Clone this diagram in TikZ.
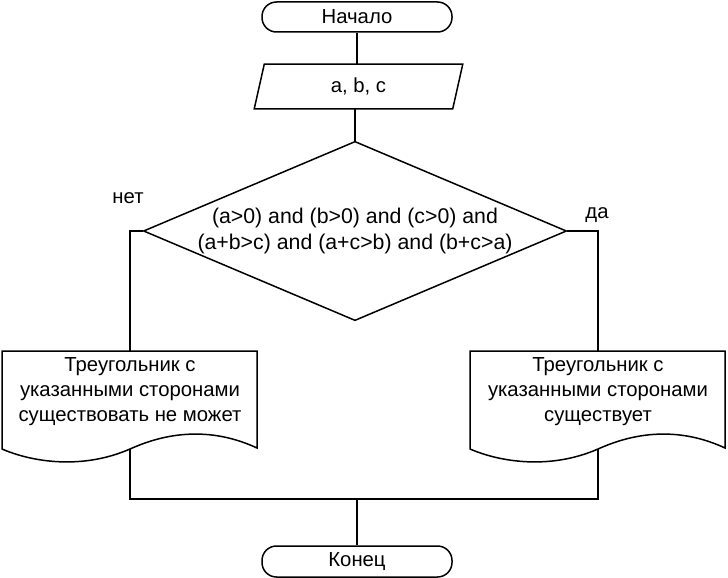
\documentclass[tikz,border=0pt]{standalone}
\usepackage{fontspec}
\setmainfont{Liberation Sans}
\usetikzlibrary{shapes.geometric,calc}
\begin{document}
\begin{tikzpicture}[x=1pt,y=-1pt, line width=1.5pt,
  every node/.style={font=\fontsize{20.3}{25}\selectfont, text=black},
  term/.style={draw, rectangle, rounded corners=14.5pt, minimum width=190pt, minimum height=30pt, inner sep=0pt},
  iobox/.style={inner sep=0pt, minimum width=197pt, minimum height=43pt},
  cond/.style={draw, diamond, aspect=2.36, minimum width=417pt, minimum height=177pt, inner sep=0pt, align=center, font=\fontsize{21.3}{26}\selectfont},
  doctext/.style={align=center, inner sep=0pt},
  lbl/.style={inner sep=0pt}]
\fill[white] (0,0) rectangle (728,578);
\useasboundingbox (0,0) rectangle (728,578);

% terminals and blocks
\node[term] (start) at (357,17) {Начало};
\node[iobox] (in) at (358.5,86.5) {a, b, c};
\draw[line join=miter] ($(in.north west)+(5,0)$) -- ($(in.north east)+(5,0)$) -- ($(in.south east)+(-5,0)$) -- ($(in.south west)+(-5,0)$) -- cycle;
\node[cond] (cond) at (355,231) {(a>0) and (b>0) and (c>0) and\\(a+b>c) and (a+c>b) and (b+c>a)};
\node[lbl] (no) at (128,198) {нет};
\node[lbl] (yes) at (597,215) {да};

% documents
\node[doctext] (ld) at (130,392) {Треугольник с\\указанными сторонами\\существовать не может};
\node[doctext] (rd) at (598,391.5) {Треугольник с\\указанными сторонами\\существует};
\foreach \L in {2,470} {
  \draw[line join=miter] (\L,449) -- (\L,351) -- ({\L+255},351) -- ({\L+255},448)
    .. controls ({\L+195},420) and ({\L+145},441.6) .. ({\L+128},449)
    .. controls ({\L+80},470) and ({\L+30},462) .. (\L,449) -- cycle;
}
\coordinate (ldtop) at (130,351);
\coordinate (rdtop) at (598,351);
\coordinate (ldbot) at (130,449);
\coordinate (rdbot) at (598,449);
\coordinate (j) at (357,499);
\node[term, minimum height=31pt] (end) at (357,561.5) {Конец};

% connectors
\draw (start.south) -- (start.south |- in.north);
\draw (in.south -| cond.north) -- (cond.north);
\draw (cond.west) -| (ldtop);
\draw (cond.east) -| (rdtop);
\draw (ldbot) |- (j) -| (rdbot);
\draw (j) -- (end.north);
\end{tikzpicture}
\end{document}
